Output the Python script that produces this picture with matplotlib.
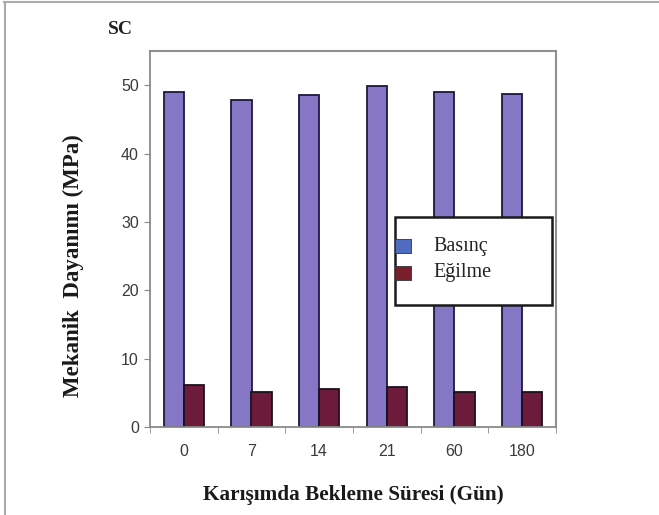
import matplotlib.pyplot as plt
import numpy as np
from matplotlib.patches import Rectangle
from matplotlib.lines import Line2D

# karışımda bekleme süresi (gün) ve dayanım değerleri (MPa)
gunler = ['0', '7', '14', '21', '60', '180']
basinc = [49.0, 47.9, 48.6, 49.9, 49.0, 48.7]
egilme = [6.2, 5.1, 5.6, 5.9, 5.1, 5.1]

serif = ['Liberation Serif', 'DejaVu Serif']
sans = ['Liberation Sans', 'DejaVu Sans']

fig = plt.figure(figsize=(6.59, 5.15), dpi=100)
ax = fig.add_axes([150 / 659, 1 - 427 / 515, 406 / 659, 376 / 515])

x = np.arange(len(gunler))
w = 0.3
ax.bar(x - w / 2, basinc, w, color='#8676c6', edgecolor='#1c1840', linewidth=1.3)
ax.bar(x + w / 2, egilme, w, color='#6c1c3a', edgecolor='#1c1020', linewidth=1.3)

ax.set_xlim(-0.5, 5.5)
ax.set_ylim(0, 55)
ax.set_yticks(range(0, 51, 10))
ax.set_xticks(x)
ax.set_xticklabels(gunler)
ax.set_xticks(np.arange(-0.5, 6, 1), minor=True)
ax.tick_params(axis='x', which='major', length=0, pad=12)
ax.tick_params(axis='x', which='minor', length=4, direction='out', color='#888888')
ax.tick_params(axis='y', length=4, direction='out', color='#888888', pad=4)
for lab in ax.get_xticklabels() + ax.get_yticklabels():
    lab.set_family(sans)
    lab.set_fontsize(11.5)
    lab.set_color('#3a3a3a')

for s in ['left', 'bottom']:
    ax.spines[s].set_color('#8a8a8a')
    ax.spines[s].set_linewidth(1.3)
for s in ['top', 'right']:
    ax.spines[s].set_color('#909090')
    ax.spines[s].set_linewidth(1.5)

ax.set_ylabel('Mekanik  Dayanımı (MPa)', family=serif, fontsize=16.5,
              fontweight='bold', color='#1a1a1a')
ax.yaxis.set_label_coords((84 - 150) / 406, (427 - 266) / 376)
ax.set_xlabel('Karışımda Bekleme Süresi (Gün)', family=serif, fontsize=15.3,
              fontweight='bold', color='#1a1a1a', labelpad=19)
fig.text(108 / 659, 1 - 30 / 515, 'SC', family=serif, fontsize=14,
         fontweight='bold', color='#222222', va='center', ha='left')

# lejant kutusu
def fx(px):
    return px / 659


def fy(py):
    return 1 - py / 515


fig.patches.append(Rectangle((fx(395), fy(305)), fx(552) - fx(395), fy(217) - fy(305),
                             transform=fig.transFigure, facecolor='white',
                             edgecolor='#1a1a1a', linewidth=1.8, zorder=5))
for yy, col, txt in [(246, '#4f6cc0', 'Basınç'), (273, '#7a1e2c', 'Eğilme')]:
    fig.patches.append(Rectangle((fx(395), fy(yy + 7)), fx(411) - fx(395), fy(yy - 7) - fy(yy + 7),
                                 transform=fig.transFigure, facecolor=col,
                                 edgecolor='#333333', linewidth=0.6, zorder=6))
    fig.text(fx(433), fy(yy), txt, family=serif, fontsize=14.5, color='#222222',
             va='center', ha='left', zorder=7)

# dış çerçeve
fig.add_artist(Line2D([fx(4), fx(659)], [fy(2), fy(2)], color='#aaaaaa', lw=1.5))
fig.add_artist(Line2D([fx(4.5), fx(4.5)], [fy(2), 0], color='#aaaaaa', lw=1.5))

fig.savefig('out.png', dpi=100)
